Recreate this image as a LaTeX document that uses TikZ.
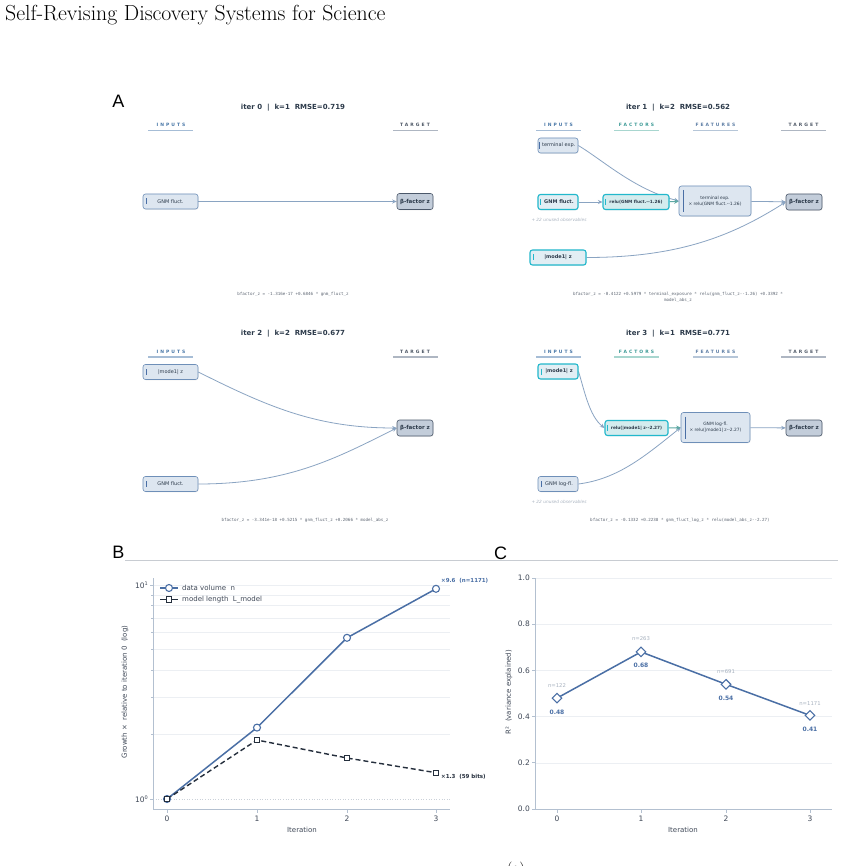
\documentclass[tikz,border=0pt]{standalone}
\usepackage{fontspec}
\usetikzlibrary{arrows.meta,shadows,shapes.geometric}
\newfontfamily\dv{DejaVu Sans}
\newfontfamily\dvmono{DejaVu Sans Mono}
\newfontfamily\hdr{DejaVu Sans}[LetterSpace=45]
\newfontfamily\lab{Liberation Sans}
\definecolor{nblue}{HTML}{4A6FA5}
\definecolor{edgeblue}{HTML}{8AA4C2}
\definecolor{boxfill}{HTML}{DDE6F0}
\definecolor{boxdraw}{HTML}{6E8FB8}
\definecolor{cyanb}{HTML}{22B8CC}
\definecolor{hifill}{HTML}{E2EEF4}
\definecolor{factfill}{HTML}{D4ECEE}
\definecolor{tgtfill}{HTML}{C3CDDA}
\definecolor{tgtdraw}{HTML}{4B586A}
\definecolor{factteal}{HTML}{3C9A96}
\definecolor{tealarrow}{HTML}{5FA9A4}
\definecolor{darkline}{HTML}{252F3D}
\definecolor{gridc}{HTML}{ECEFF3}
\definecolor{spine}{HTML}{B3C0D0}
\definecolor{tickc}{HTML}{3F4857}
\definecolor{ngrey}{HTML}{A9B3C0}
\definecolor{txt}{HTML}{2C3A4A}
\definecolor{fmlc}{HTML}{5E6673}
\definecolor{hin}{HTML}{4A78A8}
\definecolor{hinl}{HTML}{A6BDD6}
\definecolor{hfa}{HTML}{3C9A96}
\definecolor{hfal}{HTML}{A8D6CF}
\definecolor{hfe}{HTML}{5F7FA6}
\definecolor{hfel}{HTML}{B6C6D8}
\definecolor{hta}{HTML}{4E5866}
\definecolor{htal}{HTML}{AEB6C2}
\definecolor{sepc}{HTML}{C8CCD2}
\pgfdeclarelayer{bg}
\pgfdeclarelayer{paper}
\pgfsetlayers{paper,bg,main}
\tikzset{
  inb/.style={draw=boxdraw, fill=boxfill, rounded corners=2.5pt, line width=0.6pt, inner sep=0pt,
    minimum height=15pt, text=txt, font=\dv\fontsize{5}{6}\selectfont,
    drop shadow={opacity=0.12, shadow xshift=0.6pt, shadow yshift=-0.8pt}},
  hib/.style={inb, draw=cyanb, line width=1.1pt, fill=hifill, font=\dv\bfseries\fontsize{5}{6}\selectfont},
  facb/.style={hib, fill=factfill, font=\dv\bfseries\fontsize{4.3}{5}\selectfont},
  featb/.style={inb, minimum height=30pt, align=center, font=\dv\fontsize{4.4}{5.6}\selectfont},
  tgtb/.style={inb, draw=tgtdraw, fill=tgtfill, font=\dv\bfseries\fontsize{5.5}{6}\selectfont,
    minimum width=36pt, minimum height=16pt},
  conn/.style={draw=edgeblue, line width=0.8pt, -{Stealth[length=4.5pt,width=4pt]}},
  tconn/.style={draw=tealarrow, line width=1pt, -{Stealth[length=4.5pt,width=4.5pt]}},
  bar/.style={line width=0.8pt, draw=nblue},
  cbar/.style={line width=0.8pt, draw=cyanb},
  ttl/.style={font=\dv\bfseries\fontsize{7}{8}\selectfont, text=txt, inner sep=0pt},
  hd/.style={font=\hdr\bfseries\fontsize{4.5}{5}\selectfont, inner sep=0pt},
  hdl/.style={line width=1.1pt},
  fml/.style={font=\dvmono\fontsize{4.2}{6}\selectfont, text=fmlc, inner sep=0pt, align=center},
  unused/.style={font=\dv\itshape\fontsize{4.3}{5}\selectfont, text=ngrey, inner sep=0pt},
  plab/.style={font=\lab\fontsize{18}{18}\selectfont, inner sep=0pt},
  tick/.style={font=\dv\fontsize{7.5}{8}\selectfont, text=tickc, inner sep=0pt},
  axl/.style={font=\dv\fontsize{7}{8}\selectfont, text=tickc, inner sep=0pt},
  spn/.style={draw=spine, line width=0.8pt},
  grd/.style={draw=gridc, line width=0.6pt},
  nline/.style={draw=nblue, line width=1.5pt},
  lline/.style={draw=darkline, line width=1.4pt, dash pattern=on 5pt off 3pt},
  circmark/.style={circle, draw=nblue, fill=white, line width=1.1pt, minimum size=7pt, inner sep=0pt},
  sqmark/.style={rectangle, draw=darkline, fill=white, line width=0.9pt, minimum size=5.5pt, inner sep=0pt},
  diamark/.style={diamond, draw=nblue, fill=white, line width=1.1pt, minimum size=10pt, inner sep=0pt},
  vlab/.style={font=\dv\bfseries\fontsize{6}{7}\selectfont, text=nblue, inner sep=0pt},
  nlab/.style={font=\dv\fontsize{5.3}{6}\selectfont, text=ngrey, inner sep=0pt},
}
\begin{document}
\begin{tikzpicture}[x=1pt,y=-1pt]
\useasboundingbox (0,0) rectangle (844,866);
\begin{pgfonlayer}{paper}
\fill[white] (0,0) rectangle (844,866);
\end{pgfonlayer}

% page title
\node[anchor=base west, inner sep=0pt, font=\fontsize{21.8}{24}\selectfont] (pagetitle) at (5,21) {Self-Revising Discovery Systems for Science};
\node[anchor=north, inner sep=0pt, font=\fontsize{14}{14}\selectfont] (capa) at (516,862) {(a)};

% panel labels
\node[plab] (labA) at (118.5,101.5) {A};
\node[plab] (labB) at (118.5,552.5) {B};
\node[plab] (labC) at (500.5,553) {C};
\draw[draw=sepc, line width=0.8pt] (125,560.5) -- (838,560.5);

%================ iter 0 ================
\node[ttl] (t0) at (293,108) {iter 0\ \ |\ \ k=1\ \ RMSE=0.719};
\node[hd, text=hin] (h0a) at (171,125) {INPUTS};
\node[hd, text=hta] (h0d) at (415,125) {TARGET};
\draw[hdl, draw=hinl] (148,130.5) -- (193,130.5);
\draw[hdl, draw=htal] (393,130.5) -- (438,130.5);
\node[inb, minimum width=55pt] (g0) at (170.5,201.5) {GNM fluct.};
\node[tgtb] (b0) at (415,201.5) {β-factor z};
\draw[bar] ([xshift=3.5pt,yshift=3pt]g0.west) -- ([xshift=3.5pt,yshift=-3pt]g0.west);
\begin{pgfonlayer}{bg}
\draw[conn] (g0) -- (b0);
\end{pgfonlayer}
\node[fml] (fm0) at (293,294) {bfactor\_z = -1.316e-17 +0.6846 * gnm\_fluct\_z};

%================ iter 1 ================
\node[ttl] (t1t) at (678,108) {iter 1\ \ |\ \ k=2\ \ RMSE=0.562};
\node[hd, text=hin] (h1a) at (558.5,125) {INPUTS};
\node[hd, text=hfa] (h1b) at (636.5,125) {FACTORS};
\node[hd, text=hfe] (h1c) at (715.5,125) {FEATURES};
\node[hd, text=hta] (h1d) at (803.5,125) {TARGET};
\draw[hdl, draw=hinl] (536,130.5) -- (581,130.5);
\draw[hdl, draw=hfal] (614,130.5) -- (659,130.5);
\draw[hdl, draw=hfel] (693,130.5) -- (738,130.5);
\draw[hdl, draw=htal] (781,130.5) -- (826,130.5);
\node[inb, minimum width=40pt] (t1) at (558,145.5) {\hspace{1.5pt}terminal exp.};
\node[hib, minimum width=40pt] (g1) at (558,202) {\hspace{2pt}GNM fluct.};
\node[unused] (u1) at (559,220) {+ 22 unused observables};
\node[featb, minimum width=72pt] (f1) at (715,201) {terminal exp.\\× relu(GNM fluct.-{}-1.26)};
\node[facb, minimum width=66pt] (r1) at (636,202) {relu(GNM fluct.-{}-1.26)};
\node[tgtb] (bt1) at (804,202) {β-factor z};
\node[hib, minimum width=56pt] (m1) at (558,257.5) {|mode1| z};
\draw[bar] ([xshift=2pt,yshift=3.5pt]t1.west) -- ([xshift=2pt,yshift=-3.5pt]t1.west);
\draw[cbar] ([xshift=3pt,yshift=3pt]g1.west) -- ([xshift=3pt,yshift=-3pt]g1.west);
\draw[cbar] ([xshift=3pt,yshift=3pt]r1.west) -- ([xshift=3pt,yshift=-3pt]r1.west);
\draw[cbar] ([xshift=4pt,yshift=3pt]m1.west) -- ([xshift=4pt,yshift=-3pt]m1.west);
\draw[bar] ([xshift=4.5pt,yshift=11pt]f1.west) -- ([xshift=4.5pt,yshift=-11pt]f1.west);
\begin{pgfonlayer}{bg}
\draw[conn] (t1.east) .. controls +(25,15) and +(-45,-12) .. (f1.west);
\draw[conn] (g1) -- (r1);
\draw[tconn] (r1) -- (f1);
\draw[conn] (f1) -- (bt1);
\draw[conn] (m1.east) .. controls +(90,0) and +(-55,35) .. (bt1.west);
\end{pgfonlayer}
\node[fml] (fm1) at (678,297) {bfactor\_z = -0.4122 +0.5979 * terminal\_exposure * relu(gnm\_fluct\_z-{}-1.26) +0.3392 *\\model\_abs\_z};

%================ iter 2 ================
\node[ttl] (t2) at (293,334) {iter 2\ \ |\ \ k=2\ \ RMSE=0.677};
\node[hd, text=hin] (h2a) at (171,351.5) {INPUTS};
\node[hd, text=hta] (h2d) at (415,351.5) {TARGET};
\draw[hdl, draw=hinl] (148,357) -- (193,357);
\draw[hdl, draw=htal] (393,357) -- (438,357);
\node[inb, minimum width=55pt] (m2) at (170.5,372) {|mode1| z};
\node[inb, minimum width=55pt] (g2) at (170.5,484) {GNM fluct.};
\node[tgtb] (b2) at (415,428) {β-factor z};
\draw[bar] ([xshift=3.5pt,yshift=3pt]m2.west) -- ([xshift=3.5pt,yshift=-3pt]m2.west);
\draw[bar] ([xshift=3.5pt,yshift=3pt]g2.west) -- ([xshift=3.5pt,yshift=-3pt]g2.west);
\begin{pgfonlayer}{bg}
\draw[conn] (m2.east) .. controls +(70,35) and +(-80,0) .. (b2.west);
\draw[conn] (g2.east) .. controls +(90,0) and +(-60,30) .. (b2.west);
\end{pgfonlayer}
\node[fml] (fm2) at (305,520) {bfactor\_z = -3.341e-18 +0.5215 * gnm\_fluct\_z +0.2066 * model\_abs\_z};

%================ iter 3 ================
\node[ttl] (t3) at (678,334) {iter 3\ \ |\ \ k=1\ \ RMSE=0.771};
\node[hd, text=hin] (h3a) at (558.5,351.5) {INPUTS};
\node[hd, text=hfa] (h3b) at (636.5,351.5) {FACTORS};
\node[hd, text=hfe] (h3c) at (715.5,351.5) {FEATURES};
\node[hd, text=hta] (h3d) at (803.5,351.5) {TARGET};
\draw[hdl, draw=hinl] (536,357) -- (581,357);
\draw[hdl, draw=hfal] (614,357) -- (659,357);
\draw[hdl, draw=hfel] (693,357) -- (738,357);
\draw[hdl, draw=htal] (781,357) -- (826,357);
\node[hib, minimum width=40pt] (m3) at (558,371.5) {\hspace{2pt}|mode1| z};
\node[facb, minimum width=63pt] (r3) at (636.5,428) {relu(|mode1| z-{}-2.27)};
\node[featb, minimum width=69pt] (f3) at (715.5,427.5) {GNM log-fl.\\× relu(|mode1| z-{}-2.27)};
\node[tgtb] (b3) at (804,428) {β-factor z};
\node[inb, minimum width=40pt] (g3) at (558,484) {\hspace{2pt}GNM log-fl.};
\node[unused] (u3) at (559,502) {+ 22 unused observables};
\draw[cbar] ([xshift=3.5pt,yshift=3pt]m3.west) -- ([xshift=3.5pt,yshift=-3pt]m3.west);
\draw[cbar] ([xshift=3pt,yshift=3pt]r3.west) -- ([xshift=3pt,yshift=-3pt]r3.west);
\draw[bar] ([xshift=3.5pt,yshift=3pt]g3.west) -- ([xshift=3.5pt,yshift=-3pt]g3.west);
\draw[bar] ([xshift=4.5pt,yshift=11pt]f3.west) -- ([xshift=4.5pt,yshift=-11pt]f3.west);
\begin{pgfonlayer}{bg}
\draw[conn] (m3.east) .. controls +(6,20) and +(-15,-12) .. (r3.west);
\draw[conn] (g3.east) .. controls +(40,-5) and +(-35,28) .. (f3.west);
\draw[tconn] (r3) -- (f3);
\draw[conn] (f3) -- (b3);
\end{pgfonlayer}
\node[fml] (fm3) at (680,520) {bfactor\_z = -0.1332 +0.2238 * gnm\_fluct\_log\_z * relu(model\_abs\_z-{}-2.27)};

%================ panel B ================
\begin{pgfonlayer}{bg}
\foreach \yy in {734.6,696.9,670.2,649.4,632.5,618.1,605.7,594.8,585} {
  \draw[grd] (153,\yy) -- (450,\yy);
}
\draw[grd, dotted, draw=ngrey!60] (153,799) -- (450,799);
\end{pgfonlayer}
\foreach \yy in {734.6,696.9,670.2,649.4,632.5,618.1,605.7,594.8} {
  \draw[spn, line width=0.6pt] (153,\yy) -- (151,\yy);
}
\draw[spn] (153,578) -- (153,809) -- (450,809);
\draw[spn] (153,585) -- (149.5,585);
\draw[spn] (153,799) -- (149.5,799);
\node[tick, anchor=east] (yb1) at (148,585) {10\raisebox{3pt}{\fontsize{5}{5}\selectfont 1}};
\node[tick, anchor=east] (yb0) at (148,799) {10\raisebox{3pt}{\fontsize{5}{5}\selectfont 0}};
\foreach \xx/\ll in {167/0,257/1,347/2,436/3} {
  \draw[spn] (\xx,809) -- (\xx,812.5);
  \node[tick] at (\xx,818.5) {\ll};
}
\node[axl] (xlb) at (302,830) {Iteration};
\node[axl, rotate=90] (ylb) at (125,692) {Growth ×\ \ relative to iteration 0\ \ (log)};
% data
\node[circmark] (n0) at (167,799) {};
\node[circmark] (n1) at (257,727.6) {};
\node[circmark] (n2) at (347,637.8) {};
\node[circmark] (n3) at (436,588.8) {};
\node[sqmark] (l0) at (167,799) {};
\node[sqmark] (l1) at (257,740) {};
\node[sqmark] (l2) at (347,758) {};
\node[sqmark] (l3) at (436,772.7) {};
\begin{pgfonlayer}{bg}
\draw[nline] (n0.center) -- (n1.center) -- (n2.center) -- (n3.center);
\draw[lline] (l0.center) -- (l1.center) -- (l2.center) -- (l3.center);
\end{pgfonlayer}
\node[font=\dv\bfseries\fontsize{5.5}{6}\selectfont, text=nblue, anchor=west, inner sep=0pt] (an1) at (441,581) {×9.6\ \ (n=1171)};
\node[font=\dv\bfseries\fontsize{5.5}{6}\selectfont, text=darkline, anchor=west, inner sep=0pt] (an2) at (441,777) {×1.3\ \ (59 bits)};
% legend
\coordinate (lga) at (160,588);
\coordinate (lgb) at (178,588);
\coordinate (lgc) at (160,599.5);
\coordinate (lgd) at (178,599.5);
\draw[nline, line width=1.3pt] (lga) -- (lgb);
\draw[draw=darkline, line width=1.3pt] (lgc) -- (lgd);
\node[circmark] (lgm1) at (169,588) {};
\node[sqmark] (lgm2) at (169,599.5) {};
\node[axl, anchor=west] (lgt1) at (182,588) {data volume\ \ n};
\node[axl, anchor=west] (lgt2) at (182,599.5) {model length\ \ L\_model};

%================ panel C ================
\begin{pgfonlayer}{bg}
\foreach \yy in {578,624.2,670.4,716.6,762.8} {
  \draw[grd] (535,\yy) -- (832,\yy);
}
\end{pgfonlayer}
\draw[spn] (535,578) -- (535,809) -- (832,809);
\foreach \yy/\ll in {809/0.0,762.8/0.2,716.6/0.4,670.4/0.6,624.2/0.8,578/1.0} {
  \draw[spn] (535,\yy) -- (531.5,\yy);
  \node[tick, anchor=east] at (530,\yy) {\ll};
}
\foreach \xx/\ll in {557/0,641/1,726/2,810/3} {
  \draw[spn] (\xx,809) -- (\xx,812.5);
  \node[tick] at (\xx,818.5) {\ll};
}
\node[axl] (xlc) at (683,830) {Iteration};
\node[axl, rotate=90] (ylc) at (509,692) {R²\ \ (variance explained)};
\node[diamark] (c0) at (557,698.1) {};
\node[diamark] (c1) at (641,651.9) {};
\node[diamark] (c2) at (726,684.3) {};
\node[diamark] (c3) at (810,715.4) {};
\begin{pgfonlayer}{bg}
\draw[nline] (c0.center) -- (c1.center) -- (c2.center) -- (c3.center);
\end{pgfonlayer}
\node[vlab] (v0) at (557,712.5) {0.48};
\node[vlab] (v1) at (641,665.5) {0.68};
\node[vlab] (v2) at (726,698) {0.54};
\node[vlab] (v3) at (810,729.3) {0.41};
\node[nlab] (k0) at (557,685.7) {n=122};
\node[nlab] (k1) at (641,639) {n=263};
\node[nlab] (k2) at (726,671.7) {n=691};
\node[nlab] (k3) at (810,703.3) {n=1171};
\end{tikzpicture}
\end{document}
